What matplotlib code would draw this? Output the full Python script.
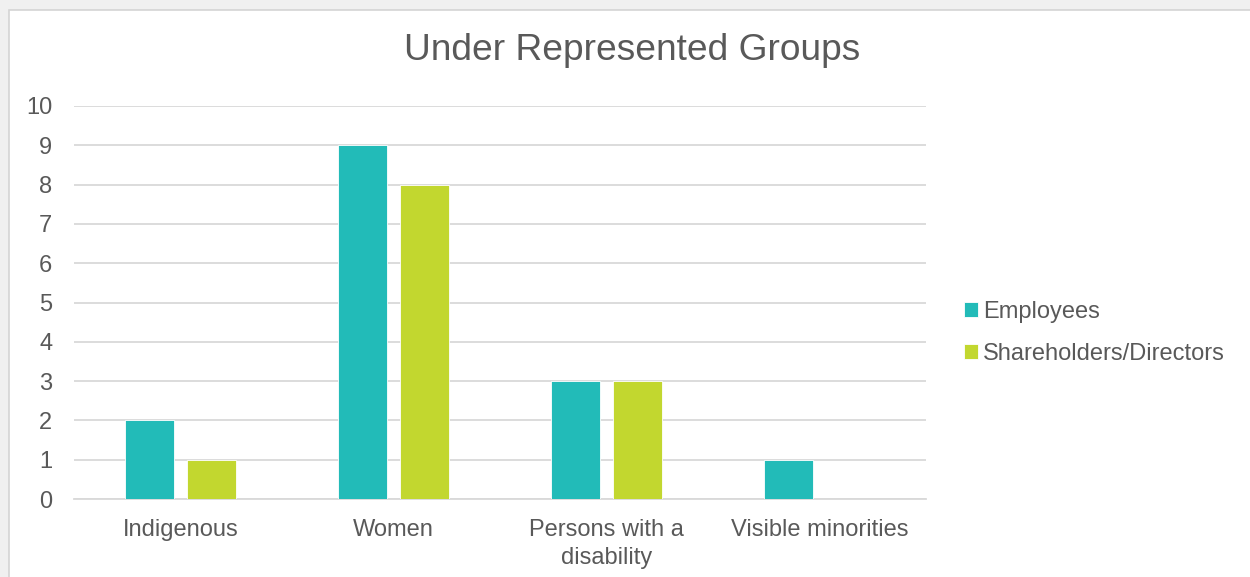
import matplotlib
matplotlib.use("Agg")
import matplotlib.pyplot as plt
from matplotlib.patches import Rectangle
import numpy as np

categories = ["Indigenous", "Women", "Persons with a\ndisability", "Visible minorities"]
employees = [2, 9, 3, 1]
shareholders = [1, 8, 3, 0]
series_names = ["Employees", "Shareholders/Directors"]
yticks = list(range(0, 11))

TEAL = "#22bbb8"
LIME = "#c2d72f"
TEXT = "#595959"
GRID = "#d9d9d9"

plt.rcParams["font.family"] = ["Liberation Sans", "DejaVu Sans"]

fig = plt.figure(figsize=(12.5, 5.77), dpi=100)
fig.patch.set_facecolor("#f0f0f0")

# white chart area with a light border
panel = Rectangle((9 / 1250, -0.01), 1.0, 1 - 10 / 577 + 0.01,
                  transform=fig.transFigure, facecolor="white",
                  edgecolor="#d4d4d4", linewidth=1.2, zorder=-5)
fig.patches.append(panel)

ax = fig.add_axes([74 / 1250, 1 - 499 / 577, 852 / 1250, (499 - 106) / 577])
ax.set_facecolor("none")
ax.set_zorder(1)

x = np.arange(len(categories))
width = 0.228
offset = 0.145
ax.bar(x - offset, employees, width, color=TEAL, edgecolor="white",
       linewidth=0.6, label=series_names[0], zorder=3)
ax.bar(x + offset, shareholders, width, color=LIME, edgecolor="white",
       linewidth=0.6, label=series_names[1], zorder=3)

ax.set_xlim(-0.5, len(categories) - 0.5)
ax.set_ylim(0, 10)
ax.set_yticks(yticks)
ax.set_yticklabels([str(v) for v in yticks])
ax.set_xticks(x)
ax.set_xticklabels(categories, linespacing=1.35)
ax.tick_params(axis="y", length=0, pad=15.5, labelsize=17, labelcolor=TEXT)
ax.tick_params(axis="x", length=0, pad=14.5, labelsize=17, labelcolor=TEXT)
ax.grid(axis="y", color=GRID, linewidth=1.3, zorder=0)
for s in ["top", "right", "left"]:
    ax.spines[s].set_visible(False)
ax.spines["bottom"].set_color(GRID)
ax.spines["bottom"].set_linewidth(1.3)

fig.text(632 / 1250, 1 - 50 / 577, "Under Represented Groups",
         ha="center", va="center", fontsize=26.7, color=TEXT)

leg = fig.legend(loc="center left", bbox_to_anchor=(943 / 1250, 1 - 333 / 577),
                 frameon=False, fontsize=17, labelcolor=TEXT,
                 handlelength=0.58, handleheight=0.58, handletextpad=0.22,
                 labelspacing=0.85)

fig.savefig("out.png", dpi=100, facecolor=fig.get_facecolor())
